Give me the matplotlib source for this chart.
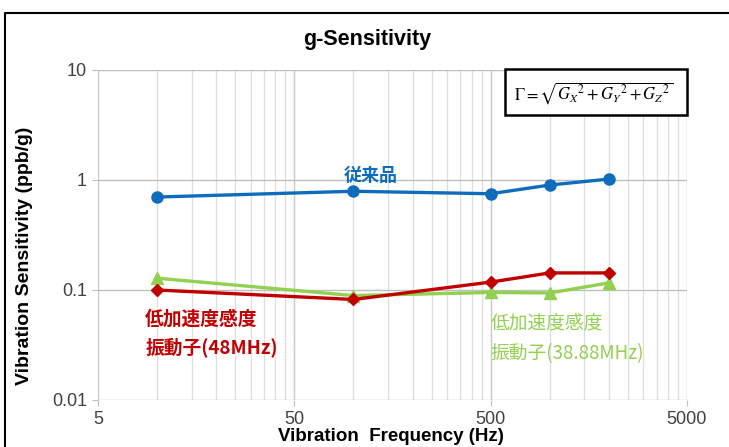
import numpy as np
import matplotlib
matplotlib.use('Agg')
import matplotlib.pyplot as plt
from matplotlib.lines import Line2D
from matplotlib.patches import Rectangle
from matplotlib.ticker import FixedLocator, NullFormatter

#------------------
# Data
#------------------

freq_hz = [10, 100, 500, 1000, 2000]
conventional = [0.70, 0.79, 0.75, 0.90, 1.02]      # 従来品
low_g_48 = [0.100, 0.082, 0.118, 0.143, 0.143]     # 48MHz
low_g_3888 = [0.128, 0.089, 0.095, 0.094, 0.116]   # 38.88MHz

x_ticks = [5, 50, 500, 5000]
x_tick_labels = ['5', '50', '500', '5000']
y_ticks = [0.01, 0.1, 1, 10]
y_tick_labels = ['0.01', '0.1', '1', '10']

#------------------
# Style
#------------------

plt.rcParams['font.family'] = ['Liberation Sans', 'Noto Sans CJK JP', 'DejaVu Sans']
CJK = ['Noto Sans CJK JP', 'Liberation Sans']
BLUE = '#0f6cbd'
RED = '#c00000'
GREEN = '#92d050'
TICK_COLOR = '#404040'

W, H = 729, 447
fig = plt.figure(figsize=(W / 100, H / 100), dpi=100)
ax = fig.add_axes([98 / W, 1 - 400 / H, (687 - 98) / W, (400 - 70) / H])

ax.set_xscale('log')
ax.set_yscale('log')
ax.set_xlim(5, 5000)
ax.set_ylim(0.01, 10)

# vertical grid at multiples of 5 in each decade
minor_x = [k * 5 * 10 ** n for n in range(3) for k in range(2, 10)]
ax.xaxis.set_major_locator(FixedLocator(x_ticks))
ax.xaxis.set_minor_locator(FixedLocator(minor_x))
ax.xaxis.set_minor_formatter(NullFormatter())
ax.set_xticklabels(x_tick_labels)
ax.yaxis.set_major_locator(FixedLocator(y_ticks))
ax.yaxis.set_minor_locator(FixedLocator([]))
ax.set_yticklabels(y_tick_labels)

ax.grid(True, which='major', axis='y', color='#bfbfbf', lw=1.0)
ax.grid(True, which='major', axis='x', color='#c8c8c8', lw=1.0)
ax.grid(True, which='minor', axis='x', color='#dedede', lw=0.9)
ax.set_axisbelow(True)

for s in ax.spines.values():
    s.set_visible(False)
ax.tick_params(axis='both', which='major', length=4, color='#bfbfbf',
               labelsize=13, labelcolor=TICK_COLOR, pad=4)
ax.tick_params(axis='both', which='minor', length=0)

#------------------
# Series
#------------------

ax.plot(freq_hz, conventional, color=BLUE, lw=2.4, marker='o', ms=8, zorder=3)
ax.plot(freq_hz, low_g_3888, color=GREEN, lw=2.4, marker='^', ms=8, zorder=3)
ax.plot(freq_hz, low_g_48, color=RED, lw=2.4, marker='D', ms=6.5, zorder=4)

ax.text(123, 1.09, '従来品', color=BLUE, fontsize=13, fontweight='bold',
        family=CJK, ha='center', va='center')
ax.text(8.7, 0.066, '低加速度感度\n振動子(48MHz)', color=RED, fontsize=13.5,
        fontweight='bold', family=CJK, ha='left', va='top', linespacing=1.6)
ax.text(500, 0.063, '低加速度感度\n振動子(38.88MHz)', color=GREEN, fontsize=13.5,
        family=CJK, ha='left', va='top', linespacing=1.6)

#------------------
# Labels and frame
#------------------

fig.text(367 / W, 1 - 40 / H, 'g-Sensitivity', fontsize=15.5, fontweight='bold',
         ha='center', va='center')
fig.text(25 / W, 1 - 256 / H, 'Vibration Sensitivity (ppb/g)', fontsize=14,
         fontweight='bold', rotation=90, ha='center', va='center')
fig.text(391 / W, 1 - 445 / H, 'Vibration  Frequency (Hz)', fontsize=13.5,
         fontweight='bold', ha='center', va='bottom')

# formula box
fig.add_artist(Rectangle((505 / W, 1 - 115 / H), 182 / W, 46 / H,
                         transform=fig.transFigure, fill=True, fc='white',
                         ec='black', lw=1.8, zorder=5))
fig.text(594 / W, 1 - 93 / H,
         r'$\Gamma = \sqrt{G_X{}^2 + G_Y{}^2 + G_Z{}^2}$',
         fontsize=12, ha='center', va='center', zorder=6,
         math_fontfamily='stix')

# outer chart border (cropped on right and bottom)
fig.add_artist(Line2D([5 / W, 5 / W, 1], [0, 1 - 13 / H, 1 - 13 / H],
                      transform=fig.transFigure, color='black', lw=1.5))

fig.savefig('out.png', dpi=100)
